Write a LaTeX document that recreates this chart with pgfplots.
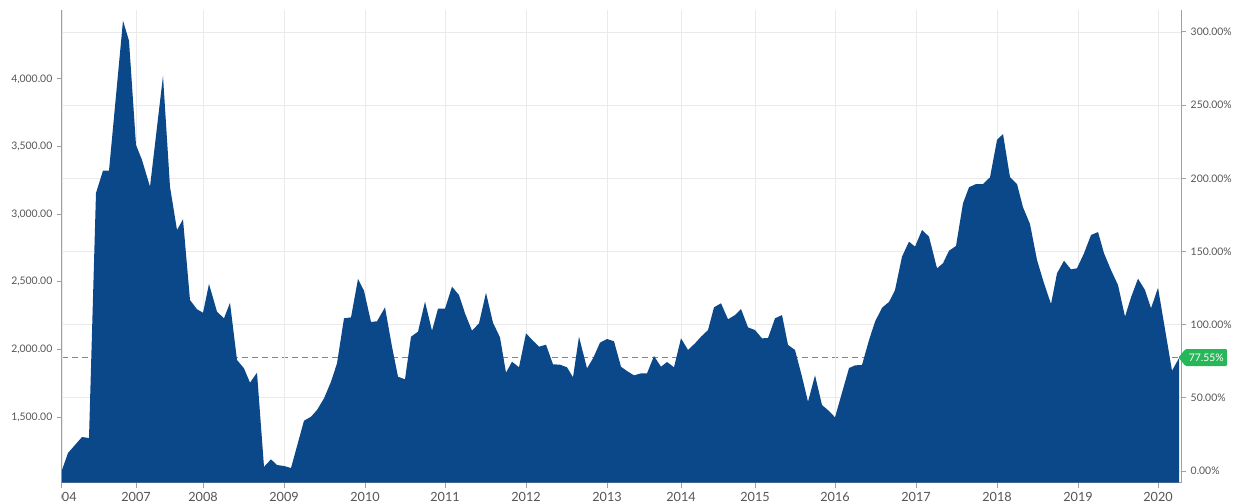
\documentclass[border=0pt]{standalone}
\usepackage{fontspec}
\setmainfont{Lato}
\usepackage{pgfplots}
\usepackage{pgfplotstable}
\pgfplotsset{compat=1.18}
\usetikzlibrary{calc,shapes.symbols}

\definecolor{areablue}{RGB}{11,72,138}
\definecolor{gridgray}{RGB}{234,234,234}
\definecolor{axisgray}{RGB}{160,160,160}
\definecolor{labelgray}{RGB}{85,85,85}
\definecolor{taggreen}{RGB}{38,184,88}
\definecolor{refgreen}{RGB}{40,190,80}

% pos = position along the time axis, v = value on the left scale
\pgfplotstableread{
pos v
62 1108
68 1234
75 1293
82 1352
89 1345
96 3157
103 3322
109 3322
123 4431
129 4283
136 3512
142 3401
150 3203
163 4022
170 3203
177 2883
183 2962
190 2365
197 2297
203 2271
209 2484
217 2279
224 2230
230 2345
237 1922
244 1860
250 1754
257 1828
264 1132
271 1187
277 1145
284 1138
291 1123
304 1473
311 1502
317 1552
324 1638
331 1761
337 1897
344 2230
351 2237
358 2521
364 2434
371 2203
377 2208
385 2311
392 2020
398 1798
405 1779
411 2094
418 2131
425 2353
432 2138
438 2301
445 2301
452 2464
459 2402
465 2267
472 2138
479 2193
486 2419
493 2197
500 2089
506 1828
512 1909
519 1868
526 2119
533 2064
539 2020
546 2035
553 1890
560 1887
567 1868
573 1794
579 2094
587 1860
593 1934
600 2050
607 2077
614 2060
621 1872
627 1840
634 1808
641 1823
647 1823
654 1951
661 1872
667 1907
674 1868
681 2082
688 1996
695 2045
701 2094
708 2143
714 2311
721 2341
728 2223
735 2254
741 2299
748 2163
755 2143
762 2082
768 2084
775 2230
782 2254
788 2033
795 1996
802 1798
808 1613
815 1808
822 1589
829 1544
835 1498
842 1680
849 1862
855 1882
862 1885
869 2069
875 2205
882 2308
889 2351
895 2439
902 2686
909 2797
915 2760
922 2883
929 2834
937 2600
943 2637
949 2730
956 2765
963 3081
969 3199
976 3223
983 3223
990 3273
997 3549
1003 3593
1010 3273
1017 3223
1023 3051
1030 2927
1037 2661
1044 2489
1051 2336
1057 2563
1064 2656
1071 2592
1077 2600
1084 2711
1091 2846
1098 2868
1104 2711
1111 2587
1118 2476
1125 2242
1131 2385
1138 2523
1145 2439
1151 2304
1158 2456
1165 2149
1172 1842
1179 1936
}\pricedata

\pgfplotsset{
  common/.style={
    scale only axis, width=839.25pt, height=354.4pt,
    xmin=62, xmax=1181,
    tick align=outside, major tick length=3.75pt,
    axis line style={axisgray, line width=0.75pt},
    tick style={axisgray, line width=0.75pt},
    grid style={gridgray, line width=0.6pt},
    /pgf/number format/assume math mode=true,
  },
}

\begin{document}
\begin{tikzpicture}
% right scale (percent), with the horizontal grid behind everything
\begin{axis}[common,
  ymin=-7.86, ymax=315,
  axis x line=none, axis y line*=right,
  ytick={0,50,...,300}, ymajorgrids,
  yticklabel={\pgfmathprintnumber[fixed,fixed zerofill,precision=2]{\tick}\%},
  yticklabel style={font=\fontsize{7.8}{9}\selectfont, text=labelgray},
]
\addplot[draw=none] coordinates {(62,0)};
% average level, 77.55 %
\addplot[color=refgreen, solid, line width=0.8pt, dash pattern=on 4.5pt off 3pt, mark=none]
  coordinates {(62,77.55) (1181,77.55)};
\coordinate (tag) at (axis cs:1178,77.55);
\end{axis}
% left scale with the area
\begin{axis}[common,
  ymin=1015.6, ymax=4510,
  axis x line*=bottom, axis y line*=left,
  xtick={62,136,203,284,365,445,526,607,681,755,835,916,997,1078,1158},
  xticklabels={2004,2007,2008,2009,2010,2011,2012,2013,2014,2015,2016,2017,2018,2019,2020},
  xmajorgrids,
  ytick={1500,2000,...,4000},
  yticklabel style={font=\fontsize{7.8}{9}\selectfont, text=labelgray,
    /pgf/number format/.cd, fixed, fixed zerofill, precision=2, 1000 sep={,}},
  xticklabel style={font=\fontsize{9.5}{11}\selectfont, text=labelgray},
]
\addplot[fill=areablue, draw=none] table[x=pos, y=v] {\pricedata} \closedcycle;
\coordinate (sw) at (rel axis cs:0,0);
\coordinate (ne) at (rel axis cs:1,1);
\end{axis}
% the first year label is cut at the plot's left edge, as in the source
\fill[white] ($(sw)+(-20pt,-4.5pt)$) rectangle ($(sw)+(-0.45pt,-16pt)$);
\node[signal, signal to=west, signal pointer angle=100, fill=taggreen,
  text=white, font=\fontsize{7.8}{9}\selectfont, inner xsep=2.5pt, inner ysep=3.5pt,
  rounded corners=0.8pt, anchor=west] at (tag) {77.55\%};
\pgfresetboundingbox
\path[use as bounding box] ($(sw)+(-46.5pt,-15.4pt)$) rectangle ($(ne)+(42pt,7.5pt)$);
\end{tikzpicture}
\end{document}
